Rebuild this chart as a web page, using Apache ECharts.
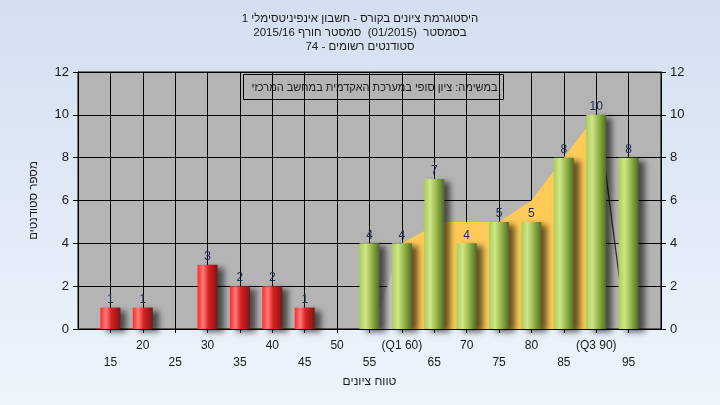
<!DOCTYPE html>
<html>
<head>
<meta charset="utf-8">
<script src="https://cdn.jsdelivr.net/npm/echarts@6/dist/echarts.min.js"></script>
<style>
html,body{margin:0;padding:0;}
#c{width:720px;height:405px;}
</style>
</head>
<body>
<div id="c"></div>
<script>
// ---- data ----
const titleLines = [
  'היסטוגרמת ציונים בקורס - חשבון אינפיניטסימלי 1',
  'בסמסטר  (01/2015)  סמסטר חורף 2015/16',
  'סטודנטים רשומים - 74'
];
const boxText = 'במשימה: ציון סופי במערכת האקדמית במחשב המרכזי';
const xAxisName = 'טווח ציונים';
const yAxisName = 'מספר סטודנטים';

const categories = [15, 20, 25, 30, 35, 40, 45, 50, 55, 60, 65, 70, 75, 80, 85, 90, 95];
const counts     = [ 1,  1,  0,  3,  2,  2,  1,  0,  4,  4,  7,  4,  5,  5,  8, 10,  8];
const failBelow = 50;

const xLabelValues = [15, 20, 25, 30, 35, 40, 45, 50, 55, 60, 65, 70, 75, 80, 85, 90, 95];
const xLabelTexts  = ['15','20','25','30','35','40','45','50','55','(Q1 60)','65','70','75','80','85','(Q3 90)','95'];

// quartile band (Q1..Q3) outline
const bandX = [60, 66, 75, 80, 85, 90];
const bandY = [4, 5, 5, 6, 8, 10];
const bandLeftX = [55.5, 60];
const bandLeftY = [0, 4];
const bandRightX = [90.3, 94.6];
const bandRightY = [10, 0];

// ---- chart ----
const FONT = "'Liberation Sans', Arial, 'DejaVu Sans', sans-serif";
const chart = echarts.init(document.getElementById('c'), null, {renderer: 'canvas'});

const redGrad = new echarts.graphic.LinearGradient(0, 0, 1, 0, [
  {offset: 0, color: '#ff2a2a'},
  {offset: 0.28, color: '#ff7a7a'},
  {offset: 0.55, color: '#d92020'},
  {offset: 1, color: '#7e1616'}
]);
const greenGrad = new echarts.graphic.LinearGradient(0, 0, 1, 0, [
  {offset: 0, color: '#a9cf55'},
  {offset: 0.3, color: '#cfe58c'},
  {offset: 0.6, color: '#98b94a'},
  {offset: 1, color: '#516a26'}
]);

const pairs = (xs, ys) => xs.map((x, i) => [x, ys[i]]);
const labelMap = {};
xLabelValues.forEach((v, i) => { labelMap[v] = xLabelTexts[i]; });

const option = {
  animation: false,
  backgroundColor: new echarts.graphic.LinearGradient(0, 0, 0, 1, [
    {offset: 0, color: '#d3dff0'},
    {offset: 1, color: '#eef4fc'}
  ]),
  textStyle: {fontFamily: FONT},
  title: [{
    text: titleLines.join('\n'),
    left: 'center',
    top: 7,
    textStyle: {fontSize: 11.5, fontWeight: 'normal', color: '#1a1a1a', lineHeight: 14, fontFamily: FONT}
  }],
  grid: {
    left: 78, right: 59, top: 72, bottom: 76,
    show: true, backgroundColor: '#b4b4b4', borderColor: '#000', borderWidth: 1
  },
  xAxis: {
    type: 'value', min: 10, max: 100, interval: 5,
    name: xAxisName, nameLocation: 'middle', nameGap: 46,
    nameTextStyle: {fontSize: 12, color: '#1a1a1a', fontFamily: FONT},
    axisLine: {show: true, onZero: false, lineStyle: {color: '#000', width: 1}},
    axisTick: {show: true, length: 4, lineStyle: {color: '#000'}},
    splitLine: {show: true, lineStyle: {color: '#000', width: 1}},
    axisLabel: {
      margin: 8, fontSize: 12, color: '#1a1a1a', lineHeight: 17, fontFamily: FONT,
      showMinLabel: false, showMaxLabel: false,
      formatter: v => {
        const t = labelMap[v];
        if (t === undefined) return '';
        return (v % 10 === 0) ? t : '\n' + t;
      }
    }
  },
  yAxis: [{
    type: 'value', min: 0, max: 12, interval: 2, position: 'left',
    name: yAxisName, nameLocation: 'middle', nameGap: 38, nameRotate: 90,
    nameTextStyle: {fontSize: 11.5, color: '#1a1a1a', fontFamily: FONT},
    axisLine: {show: true, lineStyle: {color: '#000'}},
    axisTick: {show: true, length: 5, lineStyle: {color: '#000'}},
    splitLine: {show: true, lineStyle: {color: '#000', width: 1}},
    axisLabel: {fontSize: 13, color: '#1a1a1a', margin: 9, fontFamily: FONT}
  }, {
    type: 'value', min: 0, max: 12, interval: 2, position: 'right',
    axisLine: {show: true, lineStyle: {color: '#000'}},
    axisTick: {show: true, length: 5, lineStyle: {color: '#000'}},
    splitLine: {show: false},
    axisLabel: {fontSize: 13, color: '#1a1a1a', margin: 9, fontFamily: FONT}
  }],
  graphic: [{
    type: 'group', left: 241, top: 72,
    children: [{
      type: 'rect', shape: {x: 0, y: 0, width: 260, height: 25},
      style: {fill: 'none', stroke: '#000', lineWidth: 1}
    }, {
      type: 'text', x: 131, y: 13,
      style: {text: boxText, align: 'center', verticalAlign: 'middle', font: '11px ' + FONT, fill: '#1a1a1a'}
    }]
  }],
  series: [{
    type: 'line', data: pairs(bandLeftX, bandLeftY), symbol: 'none',
    lineStyle: {width: 0}, areaStyle: {color: '#c6c6c6', opacity: 1}, z: 1, silent: true
  }, {
    type: 'line', data: pairs(bandX, bandY), symbol: 'none',
    lineStyle: {width: 0}, areaStyle: {color: '#ffca58', opacity: 1}, z: 1, silent: true
  }, {
    type: 'line', data: pairs(bandRightX, bandRightY), symbol: 'none',
    lineStyle: {width: 1.2, color: '#2a2a2a'}, z: 1, silent: true
  }, {
    type: 'bar', data: pairs(categories, counts), barWidth: 20, z: 3,
    itemStyle: {
      color: p => (p.data[0] < failBelow ? redGrad : greenGrad),
      shadowColor: 'rgba(0,0,0,0.6)', shadowBlur: 6, shadowOffsetX: 6, shadowOffsetY: 3
    },
    label: {
      show: true, position: 'top', distance: 2, fontSize: 12, color: '#1c2a50', fontFamily: FONT,
      formatter: p => (p.data[1] ? String(p.data[1]) : '')
    }
  }]
};
chart.setOption(option);
</script>
</body>
</html>
